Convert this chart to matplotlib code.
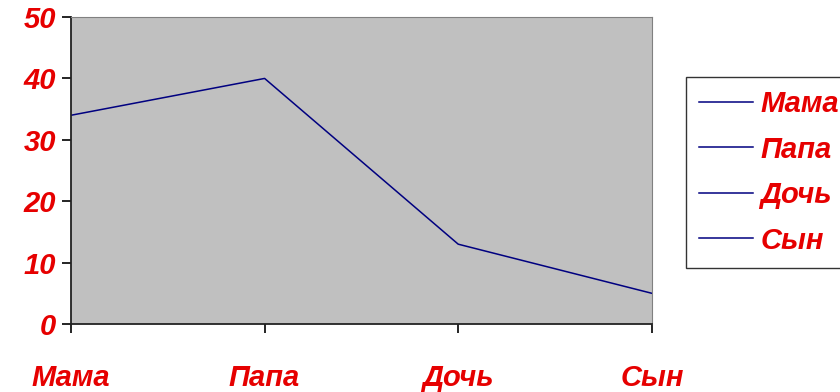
import matplotlib.pyplot as plt
from matplotlib.lines import Line2D

# семья и значения
names = ["Мама", "Папа", "Дочь", "Сын"]
values = [34, 40, 13, 5]
y_ticks = [0, 10, 20, 30, 40, 50]

RED = "#E60000"
NAVY = "#000080"
FONT = dict(family="Liberation Sans", weight="bold", style="italic", color=RED)

fig = plt.figure(figsize=(8.4, 3.92), dpi=100)
ax = fig.add_axes([0.0845, 0.1735, 0.6915, 0.783])
ax.set_facecolor("#C0C0C0")

x = list(range(len(names)))
ax.plot(x, values, color=NAVY, lw=1.1)

ax.set_xlim(0, len(names) - 1)
ax.set_ylim(0, 50)
ax.set_yticks(y_ticks)
ax.set_xticks(x)
ax.set_yticklabels([str(t) for t in y_ticks], fontsize=21, **FONT)
ax.set_xticklabels(names, fontsize=21, **FONT)
ax.tick_params(axis="y", length=6.5, width=1.2, pad=4)
ax.tick_params(axis="x", length=6.5, width=1.2, pad=22)

for s in ["left", "bottom"]:
    ax.spines[s].set_linewidth(1.3)
    ax.spines[s].set_color("#222222")
for s in ["top", "right"]:
    ax.spines[s].set_linewidth(0.8)
    ax.spines[s].set_color("#808080")

handles = [Line2D([], [], color=NAVY, lw=1.1) for _ in names]
leg = fig.legend(handles, names, loc="upper left", bbox_to_anchor=(0.8167, 0.8036),
                 frameon=True, fancybox=False, edgecolor="black",
                 prop=dict(family="Liberation Sans", weight="bold", style="italic", size=21),
                 handlelength=1.85, handletextpad=0.25, labelspacing=0.6,
                 borderpad=0.45, borderaxespad=0)
leg.get_frame().set_linewidth(1.0)
for t in leg.get_texts():
    t.set_color(RED)

fig.savefig("out.png", dpi=100)
